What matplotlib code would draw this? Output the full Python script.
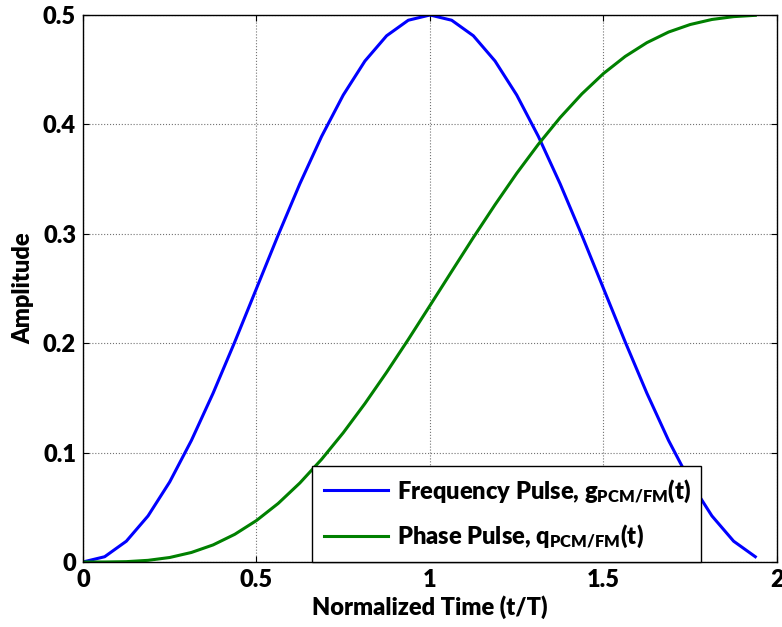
import matplotlib
matplotlib.use('Agg')
import matplotlib.pyplot as plt

plt.rcParams['font.family'] = ['Lato', 'DejaVu Sans']
plt.rcParams['font.weight'] = 'heavy'
plt.rcParams['axes.labelweight'] = 'heavy'
plt.rcParams['mathtext.fontset'] = 'custom'
plt.rcParams['mathtext.rm'] = 'Lato:heavy'
plt.rcParams['mathtext.bf'] = 'Lato:heavy'
plt.rcParams['mathtext.default'] = 'rm'

# normalized time samples (step 1/16)
t = [0, 0.0625, 0.125, 0.1875, 0.25, 0.3125, 0.375, 0.4375,
     0.5, 0.5625, 0.625, 0.6875, 0.75, 0.8125, 0.875, 0.9375,
     1.0, 1.0625, 1.125, 1.1875, 1.25, 1.3125, 1.375, 1.4375,
     1.5, 1.5625, 1.625, 1.6875, 1.75, 1.8125, 1.875, 1.9375]

# frequency pulse g(t)
freq_pulse = [0.0, 0.0048, 0.019, 0.0421, 0.0732, 0.1111, 0.1543, 0.2012,
              0.25, 0.2988, 0.3457, 0.3889, 0.4268, 0.4579, 0.481, 0.4952,
              0.5, 0.4952, 0.481, 0.4579, 0.4268, 0.3889, 0.3457, 0.2988,
              0.25, 0.2012, 0.1543, 0.1111, 0.0732, 0.0421, 0.019, 0.0048]

# phase pulse q(t)
phase_pulse = [0.0, 0.0, 0.0003, 0.0015, 0.0041, 0.0087, 0.0156, 0.0253,
               0.0379, 0.0535, 0.0722, 0.0938, 0.1181, 0.1448, 0.1734, 0.2034,
               0.2344, 0.2656, 0.2966, 0.3266, 0.3553, 0.3819, 0.4062, 0.4278,
               0.4465, 0.4621, 0.4747, 0.4844, 0.4913, 0.4959, 0.4985, 0.4997]

x_ticks = [0, 0.5, 1, 1.5, 2]
x_labels = ['0', '0.5', '1', '1.5', '2']
y_ticks = [0, 0.1, 0.2, 0.3, 0.4, 0.5]
y_labels = ['0', '0.1', '0.2', '0.3', '0.4', '0.5']

fig = plt.figure(figsize=(7.82, 6.27), dpi=100)
ax = fig.add_axes([0.1061, 0.1037, 0.8875, 0.8724])

ax.plot(t, freq_pulse, color=(0, 0, 1), linewidth=2.2,
        label=r'Frequency Pulse, g$_{PCM/FM}$(t)')
ax.plot(t, phase_pulse, color=(0, 0.5, 0), linewidth=2.2,
        label=r'Phase Pulse, q$_{PCM/FM}$(t)')

ax.set_xlim(0, 2)
ax.set_ylim(0, 0.5)
ax.set_xticks(x_ticks)
ax.set_xticklabels(x_labels)
ax.set_yticks(y_ticks)
ax.set_yticklabels(y_labels)
ax.tick_params(direction='in', length=4, width=0.8, labelsize=17,
               top=True, right=True, pad=5)
for s in ax.spines.values():
    s.set_linewidth(1.0)

ax.grid(True, linestyle=':', color='0.45', linewidth=0.8)

ax.set_xlabel('Normalized Time (t/T)', fontsize=17, fontweight='heavy', labelpad=3)
ax.set_ylabel('Amplitude', fontsize=17, fontweight='heavy', labelpad=6)

leg = ax.legend(loc='lower left', bbox_to_anchor=(0.33, 0.0, 0.56, 0.177),
                mode='expand', fontsize=17, fancybox=False, framealpha=1,
                edgecolor='black', handlelength=2.7, handletextpad=0.4,
                borderpad=0.5, labelspacing=0.75, borderaxespad=0)
leg.get_frame().set_linewidth(1.0)

fig.savefig('out.png', dpi=100)
